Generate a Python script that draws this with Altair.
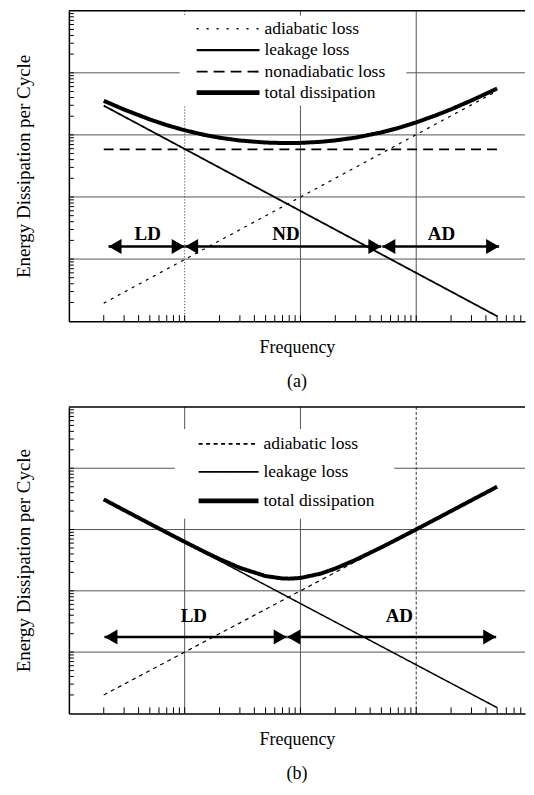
import altair as alt
import pandas as pd

SERIF = "Liberation Serif"

# ---------------- Panel (a) data ----------------
a_names = ["adiabatic loss", "leakage loss", "nonadiabatic loss", "total dissipation"]
a_line_f = [2, 5000]
a_adiabatic = [1.95, 5100]
a_leakage = [2960, 1.2]
a_nonadiabatic = [585, 585]
a_total_f = [2, 3, 5, 7, 10, 15, 20, 30, 50, 70, 100, 150, 200, 300, 500, 700,
             1000, 1500, 2000, 3000, 5000]
a_total = [3547, 2561, 1774, 1438, 1187, 995, 901, 812, 753, 740, 744, 774, 815,
           905, 1097, 1293, 1591, 2089, 2588, 3587, 5586]
a_arrow_names = ["LD", "ND", "AD"]
a_arrow_start = [2.2, 10.1, 510]
a_arrow_end = [10, 500, 5200]
a_arrow_level = [16, 16, 16]
a_label_f = [4.8, 75, 1650]
a_label_level = [25, 25, 25]
a_grid_solid_x = [100, 1000]
a_grid_dotted_x = [10]

# ---------------- Panel (b) data ----------------
b_names = ["adiabatic loss", "leakage loss", "total dissipation"]
b_line_f = [2, 5000]
b_adiabatic = [2.0, 5000]
b_leakage = [3100, 1.24]
b_total_f = [2, 3, 5, 7, 10, 15, 20, 30, 50, 70, 80, 100, 150, 200, 300, 500, 700,
             1000, 1500, 2000, 3000, 5000]
b_total = [3102, 2070, 1245, 893, 630, 428, 330, 237, 174, 159, 158, 162, 191, 231,
           321, 512, 709, 1006, 1504, 2003, 3002, 5001]
b_arrow_names = ["LD", "AD"]
b_arrow_start = [2.03, 77]
b_arrow_end = [76, 4900]
b_arrow_level = [17.7, 17.7]
b_label_f = [12, 715]
b_label_level = [39, 39]
b_grid_solid_x = [10, 100]
b_grid_dotted_x = [1000]

# shared axis structure (log decades and their minor ticks)
X_DOMAIN = [1, 8700]
Y_DOMAIN = [1, 100000]
grid_y = [10, 100, 1000, 10000]
minor_x = [m * 10 ** k for k in range(0, 4) for m in range(2, 10)
           if m * 10 ** k <= X_DOMAIN[1]] + [10, 100, 1000]
minor_y = [m * 10 ** k for k in range(0, 5) for m in range(2, 10)]

W = 457


def lines_frame(names, line_f, series_vals, total_f, total_vals):
    rows = []
    for name, vals in zip(names, series_vals):
        for f, v in zip(line_f, vals):
            rows.append({"series": name, "f": f, "E": v})
    for f, v in zip(total_f, total_vals):
        rows.append({"series": "total dissipation", "f": f, "E": v})
    return pd.DataFrame(rows)


def panel(H, names, df, dashes, leg_dashes, widths, arrows, labels, grid_solid_x,
          grid_dot_x, dot_dash, box, sym_x, label_x, row_y, caption, cap_offset):
    xs = alt.Scale(type="log", domain=X_DOMAIN)
    ys = alt.Scale(type="log", domain=Y_DOMAIN)
    ax = alt.Axis(title="Frequency", labels=False, ticks=False, grid=False,
                  domainColor="black", domainWidth=1.5, titleFont=SERIF,
                  titleFontSize=18, titleFontWeight="normal", titleColor="black",
                  titlePadding=17)
    ay = alt.Axis(title="Energy Dissipation per Cycle", labels=False, ticks=False,
                  grid=False, domainColor="black", domainWidth=1.5, titleFont=SERIF,
                  titleFontSize=19, titleFontWeight="normal", titleColor="black",
                  titlePadding=35)

    def X(field):
        return alt.X(field, scale=xs, axis=ax)

    def Y(field):
        return alt.Y(field, scale=ys, axis=ay)

    layers = []
    layers.append(alt.Chart(pd.DataFrame({"v": grid_y})).mark_rule(
        color="#555", strokeWidth=1).encode(y=Y("v:Q")))
    layers.append(alt.Chart(pd.DataFrame({"v": grid_solid_x})).mark_rule(
        color="#555", strokeWidth=1).encode(x=X("v:Q")))
    layers.append(alt.Chart(pd.DataFrame({"v": grid_dot_x})).mark_rule(
        color="#333", strokeWidth=1, strokeDash=dot_dash).encode(x=X("v:Q")))
    layers.append(alt.Chart(pd.DataFrame({"v": minor_y + grid_y})).mark_rule(
        color="black", strokeWidth=1).encode(
        y=Y("v:Q"), x=alt.value(0), x2=alt.value(5)))
    layers.append(alt.Chart(pd.DataFrame({"v": minor_x})).mark_rule(
        color="black", strokeWidth=1).encode(
        x=X("v:Q"), y=alt.value(H), y2=alt.value(H - 6)))
    layers.append(alt.Chart(pd.DataFrame({"v": [0]})).mark_rule(
        color="black", strokeWidth=1.5).encode(
        x=alt.value(0), x2=alt.value(W), y=alt.value(0)))

    # legend box and entries
    layers.append(alt.Chart(pd.DataFrame({"v": [0]})).mark_rect(
        color="white", opacity=1).encode(
        x=alt.value(box[0]), x2=alt.value(box[1]),
        y=alt.value(box[2]), y2=alt.value(box[3])))
    for i, name in enumerate(names):
        entry = alt.Chart(pd.DataFrame({"name": [name]}))
        layers.append(entry.mark_rule(
            color="black", strokeWidth=widths[i] + (0.8 if i == len(names) - 1 else 0.4),
            strokeDash=leg_dashes[i], strokeCap="butt").encode(
            x=alt.value(sym_x[0]), x2=alt.value(sym_x[1]), y=alt.value(row_y[i])))
        layers.append(entry.mark_text(
            font=SERIF, fontSize=17.5, color="black", align="left",
            baseline="middle").encode(
            x=alt.value(label_x), y=alt.value(row_y[i]), text="name:N"))

    # one line layer per series
    for i, name in enumerate(names):
        sub = df[df["series"] == name]
        layers.append(alt.Chart(sub).mark_line(
            color="black", strokeCap="butt", strokeWidth=widths[i],
            strokeDash=dashes[i]).encode(x=X("f:Q"), y=Y("E:Q")))

    arr = alt.Chart(arrows)
    layers.append(arr.mark_rule(color="black", strokeWidth=2.5).encode(
        x=X("start:Q"), x2="end:Q", y=Y("level:Q")))
    layers.append(arr.mark_point(shape="triangle-left", filled=True, size=225,
                                 color="black", opacity=1, xOffset=6.5).encode(
        x=X("start:Q"), y=Y("level:Q")))
    layers.append(arr.mark_point(shape="triangle-right", filled=True, size=225,
                                 color="black", opacity=1, xOffset=-6.5).encode(
        x=X("end:Q"), y=Y("level:Q")))
    layers.append(alt.Chart(labels).mark_text(
        font=SERIF, fontSize=19, fontWeight="bold", color="black",
        baseline="middle").encode(
        x=X("f:Q"), y=Y("level:Q"), text="name:N"))

    return alt.layer(*layers).properties(
        width=W, height=H,
        title=alt.TitleParams(caption, orient="bottom", font=SERIF, fontSize=18,
                              fontWeight="normal", color="black", offset=cap_offset))


a_df = lines_frame(a_names[:3], a_line_f, [a_adiabatic, a_leakage, a_nonadiabatic],
                   a_total_f, a_total)
b_df = lines_frame(b_names[:2], b_line_f, [b_adiabatic, b_leakage], b_total_f, b_total)

a_arrows = pd.DataFrame({"name": a_arrow_names, "start": a_arrow_start,
                         "end": a_arrow_end, "level": a_arrow_level})
a_labels = pd.DataFrame({"name": a_arrow_names, "f": a_label_f, "level": a_label_level})
b_arrows = pd.DataFrame({"name": b_arrow_names, "start": b_arrow_start,
                         "end": b_arrow_end, "level": b_arrow_level})
b_labels = pd.DataFrame({"name": b_arrow_names, "f": b_label_f, "level": b_label_level})

pa = panel(311, a_names, a_df,
           [[3, 5], [1, 0], [10, 6], [1, 0]],
           [[2, 8], [1, 0], [11, 6], [1, 0]],
           [1.2, 1.8, 1.6, 4], a_arrows, a_labels,
           a_grid_solid_x, a_grid_dotted_x, [1, 2],
           (111, 338, 5, 95), (128, 191), 196, [18, 39.5, 61, 82], "(a)", 17)
pb = panel(307, b_names, b_df,
           [[4, 4], [1, 0], [1, 0]],
           [[4, 3.5], [1, 0], [1, 0]],
           [1.2, 1.5, 4], b_arrows, b_labels,
           b_grid_solid_x, b_grid_dotted_x, [3, 2],
           (106, 326, 22, 112), (130, 190), 195, [37, 65, 94], "(b)", 17)

chart = alt.vconcat(pa, pb, spacing=15).properties(
    padding={"left": 7, "top": 1, "right": 0, "bottom": 0}
).configure_view(stroke=None)

chart.save("out.html", embed_options={"renderer": "svg", "actions": False})
